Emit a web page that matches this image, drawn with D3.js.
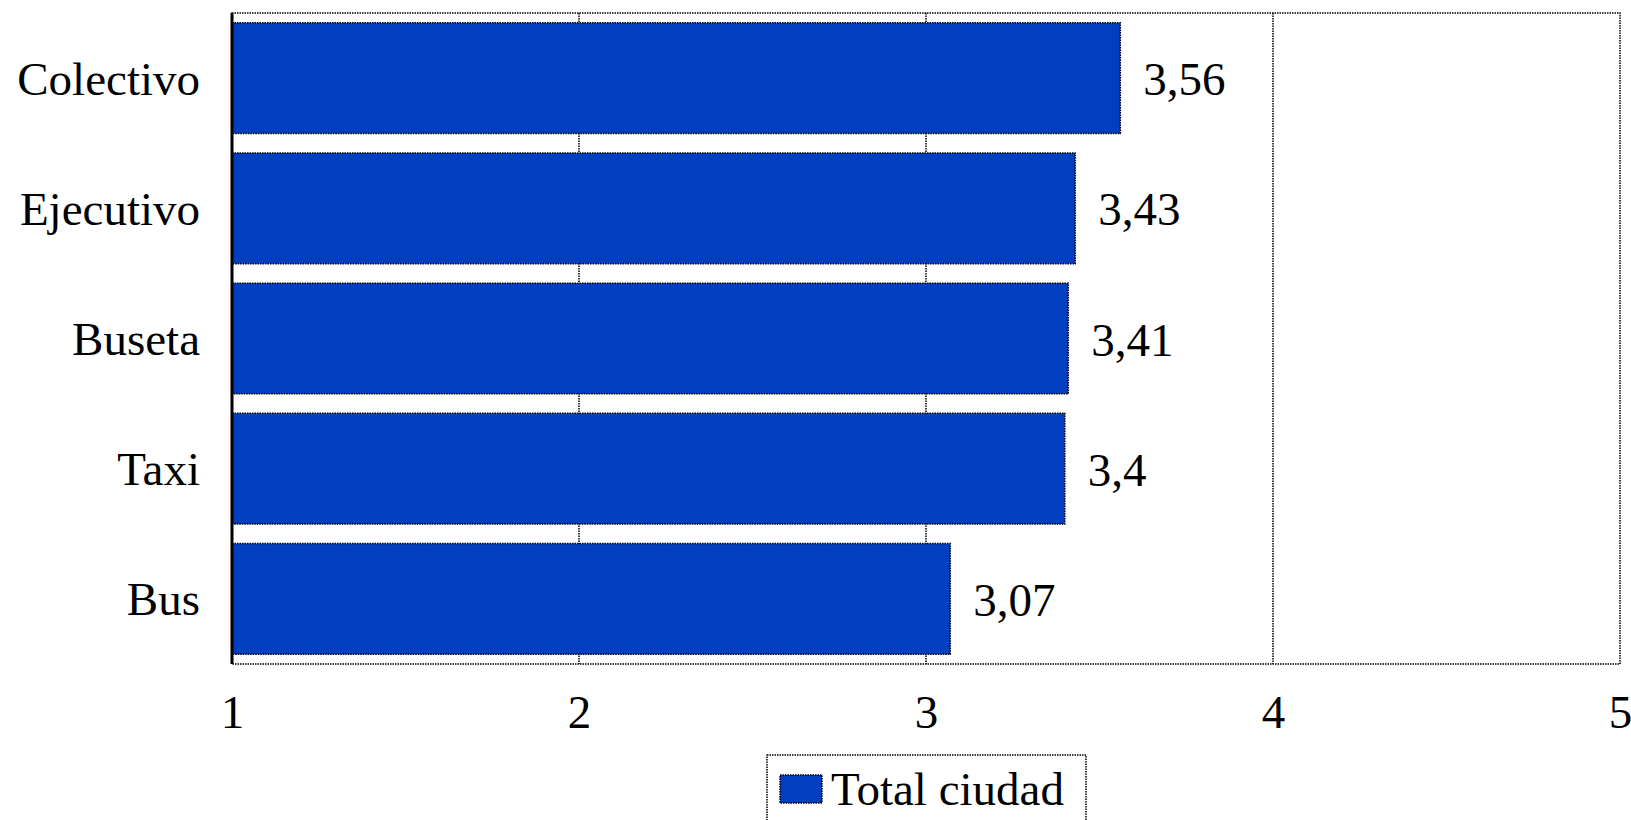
<!DOCTYPE html>
<html><head><meta charset="utf-8">
<script src="https://cdn.jsdelivr.net/npm/d3@7"></script>
<style>html,body{margin:0;padding:0;background:#fff;overflow:hidden}</style>
</head><body>
<svg id="c" width="1631" height="820"></svg>
<script>
const categories = ["Colectivo","Ejecutivo","Buseta","Taxi","Bus"];
const values = [3.56, 3.43, 3.41, 3.4, 3.07];
const valueLabels = ["3,56","3,43","3,41","3,4","3,07"];
const xTicks = [1,2,3,4,5];
const seriesName = "Total ciudad";

const W=1631,H=820;
const m={left:232,right:1620,top:13,bottom:664};
const font='"Liberation Serif","Times New Roman",serif';
const blue="#0040c0";
const svg=d3.select("#c");
const x=d3.scaleLinear().domain([1,5]).range([m.left,m.right]);
const y=d3.scaleBand().domain(categories).range([m.top,m.bottom]).paddingInner(0.15).paddingOuter(0.075);

// gridlines
svg.append("g").selectAll("line").data(xTicks.slice(1,-1)).join("line")
  .attr("x1",d=>x(d)).attr("x2",d=>x(d)).attr("y1",m.top).attr("y2",m.bottom)
  .attr("stroke","#000").attr("stroke-width",1.5).attr("stroke-dasharray","1.5,1");
// frame
svg.append("rect").attr("x",m.left).attr("y",m.top).attr("width",m.right-m.left).attr("height",m.bottom-m.top)
  .attr("fill","none").attr("stroke","#000").attr("stroke-width",1.5).attr("stroke-dasharray","1.5,1");

// bars
svg.append("g").selectAll("rect").data(categories).join("rect")
  .attr("x",x(1)).attr("y",d=>y(d))
  .attr("width",(d,i)=>x(values[i])-x(1)).attr("height",y.bandwidth())
  .attr("fill",blue).attr("stroke","#000").attr("stroke-width",1.5).attr("stroke-dasharray","1.5,1");

// left axis solid line
svg.append("line").attr("x1",m.left).attr("x2",m.left).attr("y1",m.top).attr("y2",m.bottom)
  .attr("stroke","#000").attr("stroke-width",3);

// value labels
svg.append("g").selectAll("text").data(categories).join("text")
  .attr("x",(d,i)=>x(values[i])+23).attr("y",d=>y(d)+y.bandwidth()/2+17)
  .attr("font-family",font).attr("font-size",47).attr("fill","#000")
  .text((d,i)=>valueLabels[i]);

// y axis labels
const yAxis=d3.axisLeft(y).tickSize(0).tickPadding(32);
const gy=svg.append("g").attr("transform",`translate(${m.left},0)`).call(yAxis);
gy.select(".domain").remove();
gy.selectAll("text").attr("font-family",font).attr("font-size",47).attr("fill","#000").attr("dy","0.35em");

// x axis labels
const xAxis=d3.axisBottom(x).tickValues(xTicks).tickSize(0).tickPadding(0).tickFormat(d3.format("d"));
const gx=svg.append("g").attr("transform",`translate(0,${m.bottom})`).call(xAxis);
gx.select(".domain").remove();
gx.selectAll("text").attr("font-family",font).attr("font-size",47).attr("fill","#000").attr("dy",0).attr("y",64);

// legend
const lg=svg.append("g");
lg.append("rect").attr("x",767).attr("y",755).attr("width",319).attr("height",80)
  .attr("fill","#fff").attr("stroke","#000").attr("stroke-width",1.5).attr("stroke-dasharray","1.5,1");
lg.append("rect").attr("x",780).attr("y",775).attr("width",42).attr("height",28)
  .attr("fill",blue).attr("stroke","#000").attr("stroke-width",1.5).attr("stroke-dasharray","1.5,1");
lg.append("text").attr("x",831).attr("y",805).attr("font-family",font).attr("font-size",47).attr("fill","#000").text(seriesName);
</script>
</body></html>
